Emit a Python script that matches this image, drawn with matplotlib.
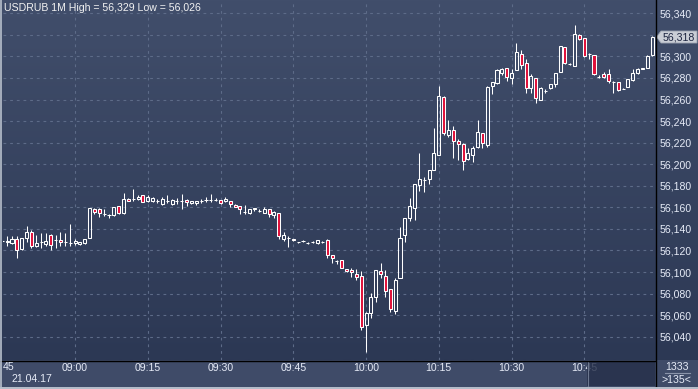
import numpy as np
import matplotlib
matplotlib.use("Agg")
import matplotlib.pyplot as plt
from matplotlib.patches import Rectangle, Polygon
from matplotlib.colors import LinearSegmentedColormap

# ---------------- data (USDRUB 1M, 21.04.17, from 08:45) ----------------
opens = [56129, 56128, 56127, 56131, 56121, 56132, 56137, 56124, 56128, 56126,
         56134, 56130, 56130, 56128, 56127, 56127, 56126, 56127, 56132, 56158,
         56158, 56154, 56153, 56153, 56161, 56155, 56168, 56168, 56168, 56171,
         56166, 56166, 56166, 56163, 56166, 56163, 56166, 56166, 56167, 56164,
         56164, 56166, 56167, 56167, 56167, 56167, 56166, 56166, 56162, 56161,
         56156, 56155, 56158, 56157, 56155, 56158, 56153, 56155, 56131, 56132,
         56131, 56128, 56129, 56127, 56128, 56127, 56128, 56130, 56116, 56110,
         56111, 56103, 56102, 56098, 56096, 56051, 56062, 56077, 56101, 56096,
         56084, 56064, 56094, 56134, 56150, 56159, 56181, 56185, 56186, 56195,
         56209, 56262, 56227, 56232, 56222, 56219, 56205, 56209, 56216, 56229,
         56218, 56273, 56275, 56285, 56289, 56280, 56287, 56302, 56294, 56271,
         56280, 56260, 56268, 56271, 56274, 56286, 56309, 56293, 56291, 56320,
         56317, 56302, 56301, 56281, 56284, 56284, 56276, 56276, 56270, 56272,
         56278, 56285, 56288, 56289, 56301]
highs = [56130, 56133, 56133, 56133, 56132, 56143, 56139, 56134, 56136, 56136,
         56135, 56134, 56137, 56136, 56145, 56131, 56128, 56131, 56159, 56159,
         56159, 56158, 56154, 56160, 56161, 56173, 56169, 56177, 56171, 56171,
         56171, 56170, 56168, 56170, 56171, 56168, 56169, 56172, 56168, 56166,
         56166, 56168, 56170, 56172, 56169, 56167, 56170, 56166, 56163, 56161,
         56162, 56158, 56159, 56158, 56160, 56158, 56157, 56155, 56137, 56133,
         56131, 56128, 56130, 56128, 56129, 56130, 56129, 56131, 56116, 56111,
         56111, 56103, 56104, 56103, 56101, 56063, 56081, 56102, 56108, 56102,
         56084, 56094, 56142, 56150, 56169, 56182, 56210, 56188, 56195, 56234,
         56273, 56263, 56241, 56235, 56223, 56220, 56215, 56217, 56241, 56229,
         56273, 56276, 56288, 56289, 56289, 56288, 56312, 56306, 56298, 56284,
         56280, 56272, 56270, 56274, 56285, 56310, 56309, 56294, 56329, 56321,
         56317, 56303, 56301, 56283, 56286, 56288, 56277, 56276, 56271, 56279,
         56288, 56289, 56289, 56301, 56319]
lows = [56128, 56124, 56126, 56113, 56120, 56128, 56122, 56123, 56122, 56124,
        56120, 56122, 56124, 56124, 56124, 56125, 56125, 56126, 56132, 56154,
        56151, 56152, 56150, 56152, 56154, 56154, 56166, 56166, 56167, 56165,
        56165, 56165, 56164, 56162, 56164, 56162, 56163, 56158, 56161, 56163,
        56162, 56164, 56165, 56165, 56166, 56163, 56165, 56160, 56160, 56154,
        56154, 56154, 56157, 56156, 56155, 56151, 56150, 56131, 56129, 56123,
        56129, 56127, 56128, 56126, 56127, 56126, 56127, 56113, 56108, 56107,
        56104, 56100, 56095, 56093, 56046, 56026, 56057, 56072, 56094, 56077,
        56063, 56061, 56094, 56128, 56147, 56148, 56175, 56174, 56182, 56195,
        56209, 56227, 56225, 56206, 56204, 56195, 56204, 56202, 56215, 56215,
        56216, 56265, 56274, 56283, 56277, 56274, 56287, 56288, 56266, 56266,
        56257, 56260, 56266, 56270, 56272, 56286, 56293, 56292, 56291, 56315,
        56299, 56298, 56283, 56280, 56280, 56275, 56266, 56268, 56270, 56272,
        56277, 56284, 56288, 56289, 56300]
closes = [56129, 56129, 56131, 56120, 56132, 56137, 56124, 56127, 56128, 56129,
          56125, 56130, 56128, 56128, 56127, 56129, 56128, 56131, 56159, 56156,
          56155, 56154, 56153, 56160, 56155, 56168, 56166, 56168, 56170, 56165,
          56170, 56169, 56166, 56168, 56166, 56167, 56166, 56166, 56165, 56166,
          56166, 56166, 56167, 56167, 56167, 56164, 56168, 56163, 56160, 56158,
          56156, 56158, 56159, 56157, 56158, 56154, 56156, 56133, 56134, 56132,
          56130, 56128, 56129, 56127, 56128, 56130, 56128, 56116, 56113, 56110,
          56104, 56101, 56100, 56095, 56049, 56062, 56077, 56102, 56098, 56082,
          56066, 56093, 56132, 56150, 56161, 56182, 56186, 56185, 56195, 56210,
          56263, 56229, 56232, 56222, 56219, 56203, 56210, 56215, 56230, 56220,
          56272, 56276, 56287, 56288, 56281, 56285, 56304, 56292, 56271, 56282,
          56261, 56271, 56268, 56274, 56285, 56310, 56294, 56293, 56321, 56316,
          56300, 56302, 56284, 56281, 56281, 56277, 56276, 56269, 56270, 56279,
          56285, 56288, 56289, 56300, 56318]

time_labels = ["08:45", "09:00", "09:15", "09:30", "09:45", "10:00", "10:15", "10:30", "10:45"]
date_label = "21.04.17"
title = "USDRUB 1M High = 56,329 Low = 56,026"
y_ticks = list(range(56040, 56341, 20))
corner_top, corner_bottom = "1333", ">135<"

# ---------------- figure ----------------
W, H = 698, 389
fig = plt.figure(figsize=(W / 100, H / 100), dpi=100)
fig.patch.set_facecolor("#3f4b68")

FONT = "Liberation Sans"
TXT = "#e6ebf7"
RED = "#e0103a"
LW = 0.75


def px_axes(x0, y0, x1, y1, **kw):
    return fig.add_axes([x0 / W, 1 - y1 / H, (x1 - x0) / W, (y1 - y0) / H], **kw)


# background gradient for plot + price scale
bg = px_axes(0, 0, W, 360, zorder=-5)
grad = np.linspace(0, 1, 256).reshape(-1, 1)
cmap = LinearSegmentedColormap.from_list("bg", ["#414e6b", "#2c3854"])
bg.imshow(grad, aspect="auto", cmap=cmap, extent=[0, 1, 0, 1], origin="upper")
bg.set_axis_off()

ax = px_axes(3, 0, 655, 360)
ax.set_facecolor("none")
n = len(opens)
x = np.arange(n)
px_per_bar = 4.85
x0_pix = 2.3
ax.set_xlim((3 - x0_pix) / px_per_bar, (655 - x0_pix) / px_per_bar)
y_top = 56340 + 13.3 / 1.078
y_bot = 56340 - (360 - 13.3) / 1.078
ax.set_ylim(y_bot, y_top)

# grid
for v in y_ticks:
    ax.axhline(v, color="#5d6b88", lw=0.8, ls=(0, (2.5, 3.5)), zorder=0)
tick_idx = [15 * k for k in range(len(time_labels))]
for t in tick_idx[1:]:
    ax.axvline(t, color="#5d6b88", lw=0.8, ls=(0, (2.5, 3.5)), zorder=0)

# candles
o = np.array(opens); c = np.array(closes); h = np.array(highs); l = np.array(lows)
top = np.maximum(o, c); bot = np.minimum(o, c)
ax.vlines(x, top, h, color="white", lw=LW, zorder=2)
ax.vlines(x, l, bot, color="white", lw=LW, zorder=2)
up = c >= o
bw = 0.62
ax.bar(x[up], (top - bot)[up], bottom=bot[up], width=bw, facecolor="none",
       edgecolor="white", lw=LW, zorder=3)
ax.bar(x[~up], (top - bot)[~up], bottom=bot[~up], width=bw, facecolor=RED,
       edgecolor="white", lw=LW, zorder=3)

for s in ax.spines.values():
    s.set_visible(False)

# the 56,320 label is hidden behind the current-price marker in the reference
last = closes[-1]
ax.yaxis.tick_right()
ax.set_yticks(y_ticks)
ax.set_yticklabels(["" if abs(v - last) < 10 else f"{v:,}" for v in y_ticks])
ax.set_xticks(tick_idx[1:])
ax.set_xticklabels(time_labels[1:])
ax.tick_params(axis="y", length=0, pad=3.5, labelsize=7.6, labelcolor=TXT)
ax.tick_params(axis="x", length=0, pad=2.5, labelsize=7.6, labelcolor=TXT)
for lab in ax.get_xticklabels() + ax.get_yticklabels():
    lab.set_fontfamily(FONT)

# overlay in pixel coordinates
ov = fig.add_axes([0, 0, 1, 1], zorder=10)
ov.set_xlim(0, W); ov.set_ylim(H, 0)
ov.set_axis_off()
ov.patch.set_visible(False)

# bottom band darker box (scroll area) semi-transparent
ov.add_patch(Rectangle((587, 361), 68, 25, facecolor="#26304a", alpha=0.82, lw=0))
ov.plot([587.5, 587.5], [361, 386], color="#6d7890", lw=0.8)
# axis lines
ov.plot([0, 655], [360.5, 360.5], color="black", lw=1.0)
ov.plot([655.5, 655.5], [0, 386], color="black", lw=1.0)
# outer border
ov.plot([0.5, 0.5], [0, H], color="#b8c0cc", lw=1.2)
ov.plot([0, W], [388.3, 388.3], color="#b8c0cc", lw=1.4)

# texts
ov.text(4, 3, title, color="#f2f2f2", fontsize=7.6, family=FONT, va="top", ha="left")
ov.text(3, 367.5, time_labels[0][-2:], color=TXT, fontsize=7.6, family=FONT, va="center", ha="left")
ov.text(11, 378.5, date_label, color=TXT, fontsize=7.6, family=FONT, va="center", ha="left")
ov.text(676.5, 366.5, corner_top, color=TXT, fontsize=7.6, family=FONT, va="center", ha="center")
ov.plot([665, 690], [372.5, 372.5], color="#8a94aa", lw=0.8)
ov.text(676.5, 380, corner_bottom, color=TXT, fontsize=7.6, family=FONT, va="center", ha="center")

# current price marker
fig.canvas.draw()
yp = H - ax.transData.transform((0, last))[1]
ov.add_patch(Polygon([[656.5, yp], [661, yp - 6], [697, yp - 6], [697, yp + 6], [661, yp + 6]],
                     closed=True, facecolor="#c9cdd5", edgecolor="#9aa2b0", lw=0.6))
ov.text(679, yp, f"{last:,}", color="#1c2440", fontsize=7.6, family=FONT,
        va="center", ha="center")

fig.savefig("out.png", dpi=100)
